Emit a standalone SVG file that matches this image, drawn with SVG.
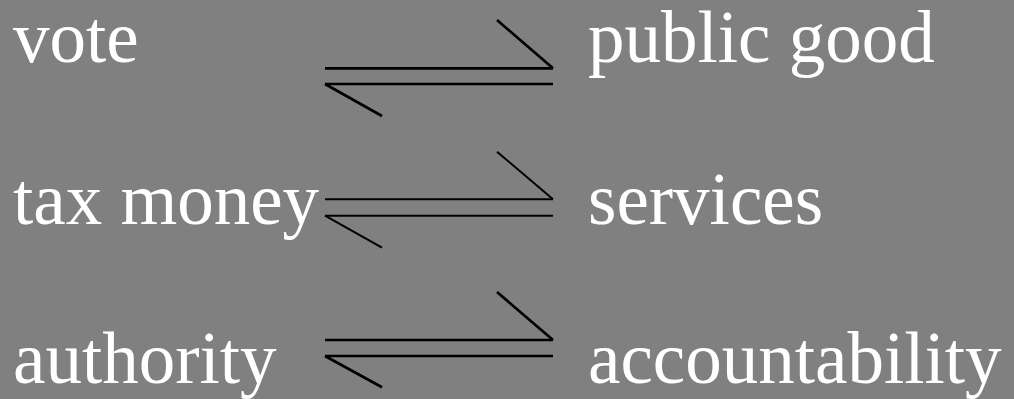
<svg xmlns="http://www.w3.org/2000/svg" width="1014" height="399" viewBox="0 0 1014 399">
<style>
.t{font-family:"Liberation Serif","Times New Roman",serif;font-size:73px;fill:#ffffff}
.c line{stroke:#000000;stroke-width:2.7;fill:none}
</style>
<rect width="1014" height="399" fill="#808080"/>
<g id="vote"><text class="t" x="13" y="62">vote</text></g>
<g id="public-good"><text class="t" x="588" y="62">public good</text></g>
<g id="tax-money"><text class="t" x="13" y="224">tax money</text></g>
<g id="services"><text class="t" x="588" y="224">services</text></g>
<g id="authority"><text class="t" x="13" y="383">authority</text></g>
<g id="accountability"><text class="t" x="588" y="383">accountability</text></g>
<g id="connectors" class="c">
<line x1="325" y1="68.3" x2="553" y2="68.3"/>
<line x1="497" y1="20" x2="553" y2="68.3"/>
<line x1="325" y1="84" x2="553" y2="84"/>
<line x1="325" y1="84" x2="382" y2="116"/>
<line x1="325" y1="199.3" x2="553" y2="199.3" style="stroke-width:2"/>
<line x1="497" y1="151.7" x2="553" y2="199.3" style="stroke-width:2"/>
<line x1="325" y1="215.7" x2="553" y2="215.7" style="stroke-width:2"/>
<line x1="325" y1="215.7" x2="382" y2="247.7" style="stroke-width:2"/>
<line x1="325" y1="340" x2="553" y2="340"/>
<line x1="497" y1="292" x2="553" y2="340"/>
<line x1="325" y1="356" x2="553" y2="356"/>
<line x1="325" y1="356" x2="382" y2="387.3"/>
</g>
</svg>
